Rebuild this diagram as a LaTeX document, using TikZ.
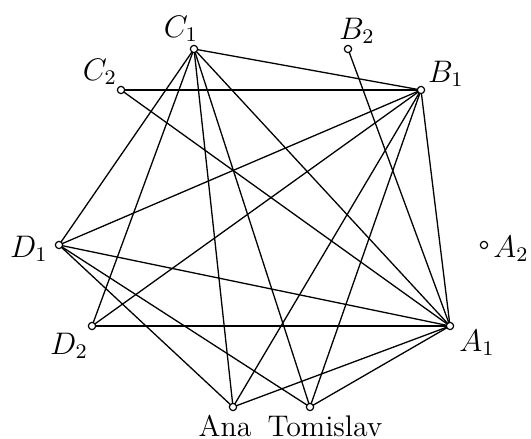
\documentclass[tikz,border=0pt]{standalone}
\begin{document}
\begin{tikzpicture}[x=0.385pt,y=-0.385pt,
  vtx/.style={circle,draw,fill=white,inner sep=0pt,minimum size=2.8pt,line width=0.45pt},
  edge/.style={line width=0.5pt},
  lab/.style={inner sep=0pt,font=\fontsize{11.5}{14}\selectfont}]
\useasboundingbox (0,0) rectangle (531,439);
\coordinate (c1) at (194,49);
\coordinate (b2) at (348,49);
\coordinate (c2) at (121,90);
\coordinate (b1) at (421,90);
\coordinate (d1) at (59,245);
\coordinate (a2) at (484,245);
\coordinate (d2) at (92,326);
\coordinate (a1) at (450,326);
\coordinate (ana) at (233,407);
\coordinate (tom) at (310,407);
\begin{scope}[edge]
\draw (c1) -- (b1);
\draw (c1) -- (d1);
\draw (c1) -- (d2);
\draw (c1) -- (ana);
\draw (c1) -- (tom);
\draw (c1) -- (a1);
\draw (c2) -- (b1);
\draw (c2) -- (a1);
\draw (b2) -- (a1);
\draw (b1) -- (d1);
\draw (b1) -- (d2);
\draw (b1) -- (ana);
\draw (b1) -- (tom);
\draw (b1) -- (a1);
\draw (d1) -- (a1);
\draw (d1) -- (ana);
\draw (d1) -- (tom);
\draw (d2) -- (a1);
\draw (ana) -- (a1);
\draw (tom) -- (a1);
\end{scope}
\node[vtx] (C1) at (c1) {};
\node[vtx] (B2) at (b2) {};
\node[vtx] (C2) at (c2) {};
\node[vtx] (B1) at (b1) {};
\node[vtx] (D1) at (d1) {};
\node[vtx] (A2) at (a2) {};
\node[vtx] (D2) at (d2) {};
\node[vtx] (A1) at (a1) {};
\node[vtx] (Ana) at (ana) {};
\node[vtx] (Tom) at (tom) {};
\node[lab] (lC1) at (181,29) {$C_1$};
\node[lab] (lB2) at (357,31) {$B_2$};
\node[lab] (lC2) at (100,72) {$C_2$};
\node[lab] (lB1) at (446,74) {$B_1$};
\node[lab] (lD1) at (29,249) {$D_1$};
\node[lab] (lA2) at (511,249) {$A_2$};
\node[lab] (lD2) at (69,346) {$D_2$};
\node[lab] (lA1) at (477,343) {$A_1$};
\node[lab,anchor=base] (lAna) at (225,436) {Ana};
\node[lab,anchor=base] (lTom) at (325,436) {Tomislav};
\end{tikzpicture}
\end{document}
